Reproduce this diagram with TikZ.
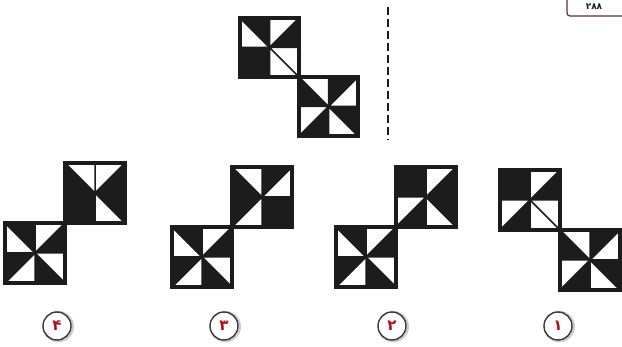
\documentclass[tikz,border=0pt]{standalone}
\usepackage{fontspec}
\newfontfamily\fa[Script=Arabic]{DejaVu Sans}
\definecolor{tB}{HTML}{1C1C1C}
\definecolor{tW}{HTML}{FFFFFF}
\definecolor{ring}{HTML}{3A3A3A}
\definecolor{digit}{HTML}{B0101A}
\tikzset{
  inner/.style={line width=1.5pt, draw=tB},
  outer/.style={line width=3.4pt, draw=tB, line join=miter},
  lab/.style={circle, draw=ring, line width=1.4pt, fill=white, minimum size=28pt, inner sep=0pt, text=digit, font=\fa\bfseries\fontsize{15}{15}\selectfont},
  labshadow/.style={circle, draw=gray!40, line width=2.4pt, minimum size=29pt, inner sep=0pt},
  dashline/.style={line width=2.6pt, draw=tB, dash pattern=on 8pt off 4pt},
}
% #1 x, #2 y, #3 side, #4 eight colours Nw Ne En Es Se Sw Ws Wn
\newcommand\pinsq[4]{%
  \begin{scope}[shift={(#1,#2)}]
    \def\s{#3}\pgfmathsetmacro\h{#3/2}%
    \expandafter\pintiles#4\relax
    \draw[inner] (0,0) -- (\s,\s) (\s,0) -- (0,\s) (\h,0) -- (\h,\s) (0,\h) -- (\s,\h);
    \draw[outer] (0,0) rectangle (\s,\s);
  \end{scope}}
\def\pintiles#1#2#3#4#5#6#7#8\relax{%
  \fill[fill=t#1] (0,0) -- (\h,0) -- (\h,\h) -- cycle;
  \fill[fill=t#2] (\h,0) -- (\s,0) -- (\h,\h) -- cycle;
  \fill[fill=t#3] (\s,0) -- (\s,\h) -- (\h,\h) -- cycle;
  \fill[fill=t#4] (\s,\h) -- (\s,\s) -- (\h,\h) -- cycle;
  \fill[fill=t#5] (\h,\h) -- (\s,\s) -- (\h,\s) -- cycle;
  \fill[fill=t#6] (\h,\h) -- (\h,\s) -- (0,\s) -- cycle;
  \fill[fill=t#7] (0,\h) -- (\h,\h) -- (0,\s) -- cycle;
  \fill[fill=t#8] (0,0) -- (0,\h) -- (\h,\h) -- cycle;
}
\begin{document}
\begin{tikzpicture}[x=1pt,y=-1pt]
\useasboundingbox (0,0) rectangle (622,347);
\begin{scope}
\clip (0,0) rectangle (622,347);
% page number box, running off the top edge
\draw[draw=ring!80!red, line width=1.2pt, rounded corners=3pt] (567,-12) rectangle (640,16);
\end{scope}
\node[font=\fa\bfseries\fontsize{9}{9}\selectfont, text=tB, inner sep=0pt, anchor=center] (pg) at (594,7) {۲۸۸};
% dashed separator
\coordinate (dtop) at (388,7);
\coordinate (dbot) at (388,140);
\draw[dashline] (dtop) -- (dbot);
% question figure
\pinsq{240}{18}{59}{BWBWWBBW}
\pinsq{299}{77}{59}{WBWBWBWB}
% option 4
\pinsq{5}{223}{60}{BWBWBWBW}
\pinsq{65}{163}{60}{WWBBWBBB}
% option 3
\pinsq{172}{227}{60}{BWBWBWBW}
\pinsq{232}{167}{60}{WBWBBWBB}
% option 2
\pinsq{336}{227}{60}{BWBWBWBW}
\pinsq{396}{167}{60}{BWBBWBWB}
% option 1
\pinsq{500}{170}{60}{BWBWWBWB}
\pinsq{560}{230}{60}{WBWBWBWB}
% answer labels
\foreach \n/\x in {s4/57,s3/224,s2/392,s1/558}{\node[labshadow] (\n) at (\x+1.3,326.6) {};}
\node[lab] (l4) at (57,326) {۴};
\node[lab] (l3) at (224,326) {۳};
\node[lab] (l2) at (392,326) {۲};
\node[lab] (l1) at (558,326) {۱};
\end{tikzpicture}
\end{document}
